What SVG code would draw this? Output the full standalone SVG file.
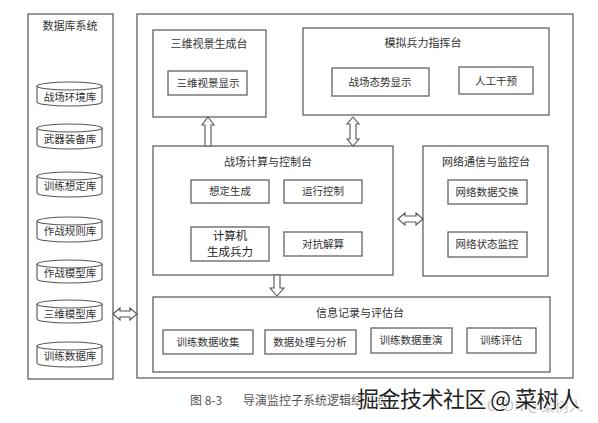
<svg xmlns="http://www.w3.org/2000/svg" width="598" height="423" viewBox="0 0 598 423">
<style>
.box{fill:none;stroke:#555;stroke-width:1.2}
.cyl{fill:#fff;stroke:#555;stroke-width:1.1}
.arr{fill:#fff;stroke:#555;stroke-width:1.1;stroke-linejoin:miter}
text{font-family:"Noto Sans CJK SC","Noto Sans CJK TC",sans-serif;fill:#333;text-anchor:middle}
.t{font-size:11px}
.s{font-size:10.5px}
.b{font-size:11.5px;fill:#222}
</style>
<rect width="598" height="423" fill="#fff"/>

<g id="db-system">
<rect class="box" x="28" y="14" width="85" height="365"/>
<text class="t" x="70" y="30">数据库系统</text>
</g>
<g id="db1"><path class="cyl" d="M37,86 L37,102 A32.5,4 0 0 0 102,102 L102,86"/><ellipse class="cyl" cx="69.5" cy="86" rx="32.5" ry="4"/><text class="s" x="70" y="101">战场环境库</text></g>
<g id="db2"><path class="cyl" d="M37,128 L37,145 A32.5,4 0 0 0 102,145 L102,128"/><ellipse class="cyl" cx="69.5" cy="128" rx="32.5" ry="4"/><text class="s" x="70" y="143">武器装备库</text></g>
<g id="db3"><path class="cyl" d="M37,176 L37,193 A32.5,4 0 0 0 102,193 L102,176"/><ellipse class="cyl" cx="69.5" cy="176" rx="32.5" ry="4"/><text class="s" x="70" y="190">训练想定库</text></g>
<g id="db4"><path class="cyl" d="M37,221 L37,238 A32.5,4 0 0 0 102,238 L102,221"/><ellipse class="cyl" cx="69.5" cy="221" rx="32.5" ry="4"/><text class="s" x="70" y="235">作战规则库</text></g>
<g id="db5"><path class="cyl" d="M37,264 L37,279 A32.5,4 0 0 0 102,279 L102,264"/><ellipse class="cyl" cx="69.5" cy="264" rx="32.5" ry="4"/><text class="s" x="70" y="277">作战模型库</text></g>
<g id="db6"><path class="cyl" d="M37,304 L37,319 A32.5,4 0 0 0 102,319 L102,304"/><ellipse class="cyl" cx="69.5" cy="304" rx="32.5" ry="4"/><text class="s" x="70" y="318">三维模型库</text></g>
<g id="db7"><path class="cyl" d="M37,346 L37,363 A32.5,4 0 0 0 102,363 L102,346"/><ellipse class="cyl" cx="69.5" cy="346" rx="32.5" ry="4"/><text class="s" x="70" y="360">训练数据库</text></g>

<g id="main-system"><rect class="box" x="137" y="14" width="436" height="364"/></g>

<g id="scene-console">
<rect class="box" x="153" y="30" width="113" height="87"/>
<text class="t" x="209" y="48">三维视景生成台</text>
<rect class="box" x="168" y="71" width="79" height="24"/>
<text class="s" x="208" y="87">三维视景显示</text>
</g>

<g id="command-console">
<rect class="box" x="303" y="28" width="246" height="87"/>
<text class="t" x="423" y="47">模拟兵力指挥台</text>
<rect class="box" x="332" y="68" width="97" height="28"/>
<text class="s" x="380" y="86">战场态势显示</text>
<rect class="box" x="459" y="67" width="74" height="27"/>
<text class="s" x="496" y="85">人工干预</text>
</g>

<g id="calc-console">
<rect class="box" x="153" y="146" width="240" height="129"/>
<text class="t" x="268" y="166">战场计算与控制台</text>
<rect class="box" x="191" y="180" width="78" height="23"/>
<text class="s" x="230" y="195">想定生成</text>
<rect class="box" x="284" y="180" width="78" height="23"/>
<text class="s" x="323" y="195">运行控制</text>
<rect class="box" x="191" y="227" width="78" height="34"/>
<text class="b" x="230" y="240">计算机</text>
<text class="b" x="230" y="256">生成兵力</text>
<rect class="box" x="284" y="232" width="78" height="24"/>
<text class="s" x="323" y="248">对抗解算</text>
</g>

<g id="network-console">
<rect class="box" x="423" y="146" width="125" height="130"/>
<text class="t" x="486" y="166">网络通信与监控台</text>
<rect class="box" x="448" y="180" width="79" height="24"/>
<text class="s" x="487" y="196">网络数据交换</text>
<rect class="box" x="448" y="232" width="79" height="25"/>
<text class="s" x="487" y="248">网络状态监控</text>
</g>

<g id="info-console">
<rect class="box" x="153" y="297" width="397" height="75"/>
<text class="t" x="360" y="317">信息记录与评估台</text>
<rect class="box" x="163" y="330" width="90" height="24"/>
<text class="s" x="208" y="346">训练数据收集</text>
<rect class="box" x="265" y="330" width="91" height="24"/>
<text class="s" x="310" y="346">数据处理与分析</text>
<rect class="box" x="371" y="328" width="81" height="25"/>
<text class="s" x="411" y="344">训练数据重演</text>
<rect class="box" x="467" y="328" width="69" height="25"/>
<text class="s" x="501" y="344">训练评估</text>
</g>

<g id="connectors">
<path class="arr" d="M208,117 L214,125 L211,125 L211,146 L205,146 L205,125 L202,125 Z"/>
<path class="arr" d="M353,117 L359,124 L356,124 L356,139 L359,139 L353,146 L347,139 L350,139 L350,124 L347,124 Z"/>
<path class="arr" d="M398,219 L405,213 L405,216 L416,216 L416,213 L423,219 L416,225 L416,222 L405,222 L405,225 Z"/>
<path class="arr" d="M113,314 L120,308 L120,311 L130,311 L130,308 L137,314 L130,320 L130,317 L120,317 L120,320 Z"/>
<path class="arr" d="M274,275 L280,275 L280,288 L284,288 L277,296 L270,288 L274,288 Z"/>
</g>

<g id="caption">
<text x="190" y="405" style="font-size:12px;fill:#555;text-anchor:start">图 8-3</text>
<text x="243" y="405" style="font-size:12px;fill:#555;text-anchor:start">导演监控子系统逻辑结构图</text>
<text x="487" y="411" textLength="96" style="font-size:14px;fill:#c4c4c4;text-anchor:start">CSDN @菜树人</text>
<text x="357" y="407" textLength="223" style="font-size:22px;fill:#222;text-anchor:start;stroke:#fff;stroke-width:2;paint-order:stroke">掘金技术社区 @ 菜树人</text>
</g>
</svg>
